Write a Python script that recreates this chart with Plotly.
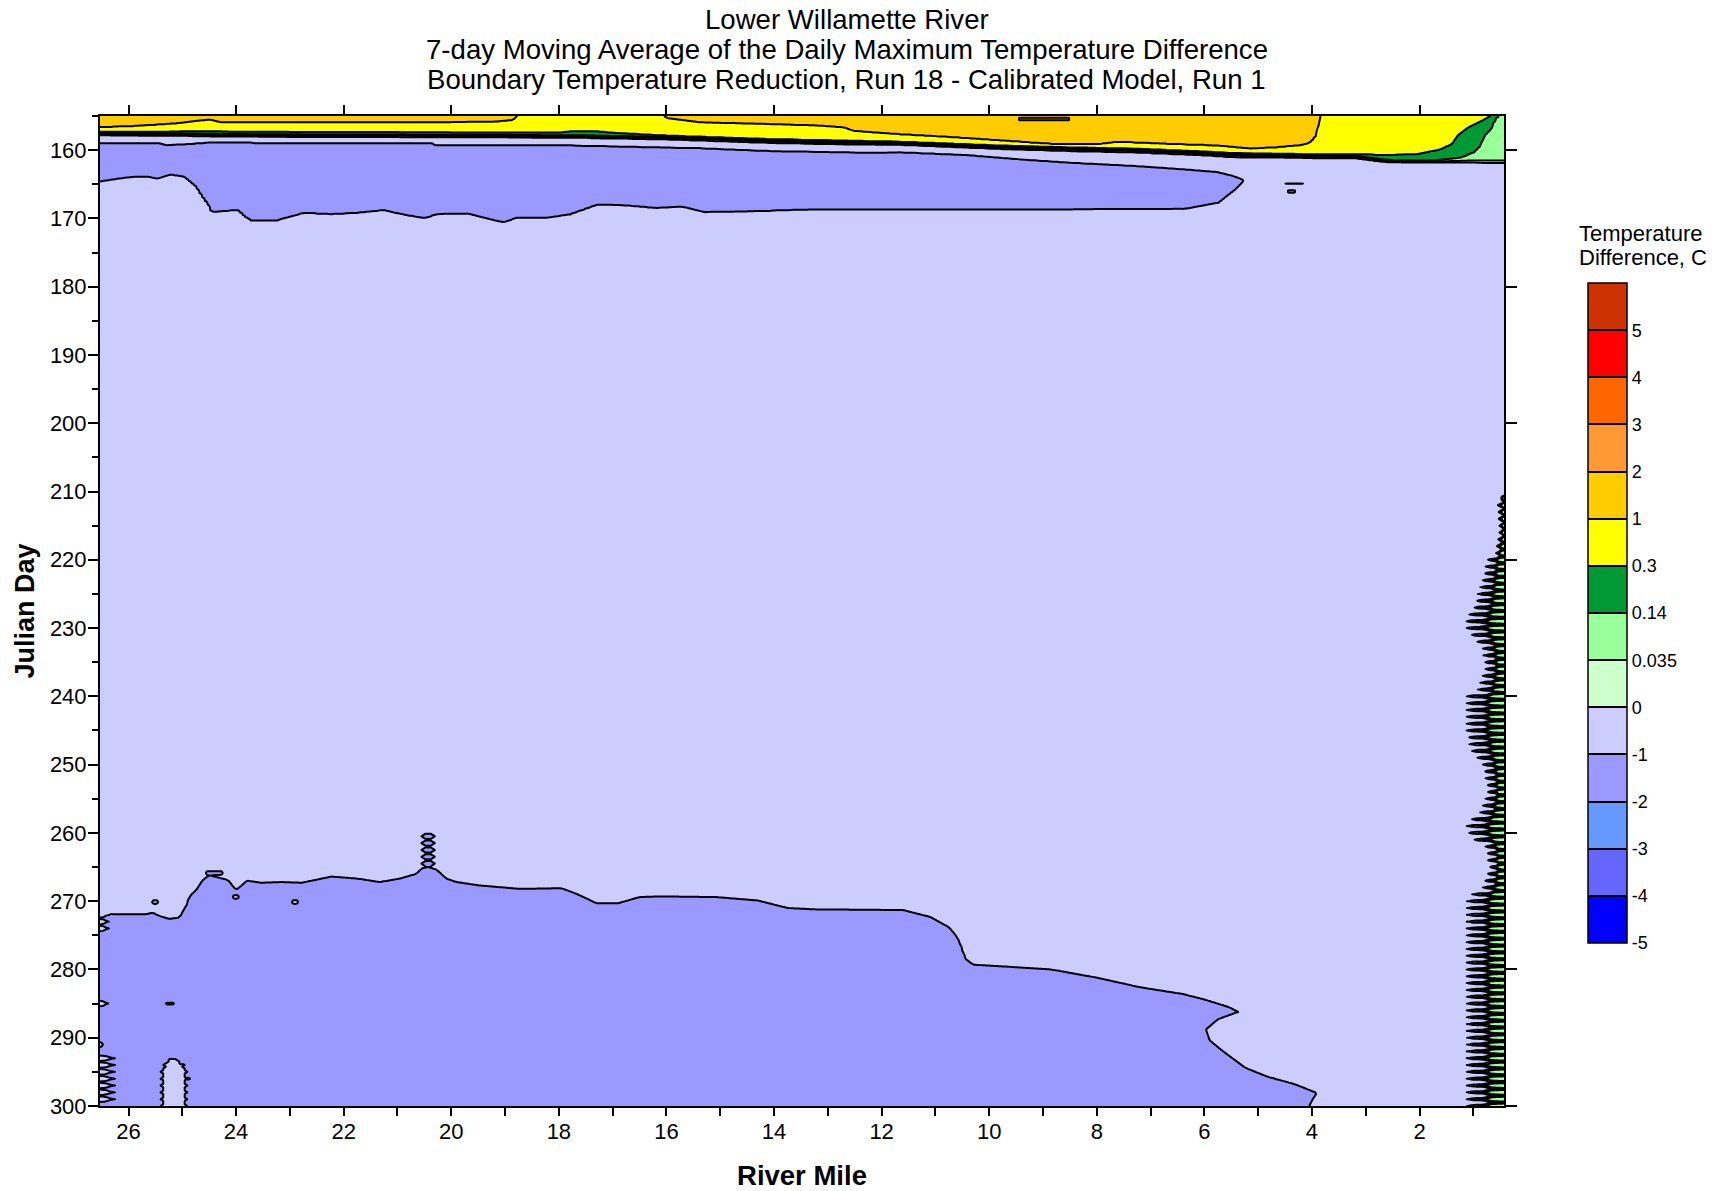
import numpy as np
import plotly.graph_objects as go

# ------------------------------------------------------------------ data
LEVELS = [-5, -4, -3, -2, -1, 0, 0.035, 0.14, 0.3, 1, 2, 3, 4, 5]
LEVEL_TEXT = ["-5", "-4", "-3", "-2", "-1", "0", "0.035", "0.14", "0.3",
              "1", "2", "3", "4", "5"]
BAND_COLORS = ["#0000FF", "#6666FF", "#6699FF", "#9999FF", "#CCCCFF", "#CCFFCC",
               "#99FF99", "#009933", "#FFFF00", "#FFCC00", "#FF9933", "#FF6600",
               "#FF0000", "#CC3300"]

TITLE_LINES = ["Lower Willamette River",
               "7-day Moving Average of the Daily Maximum Temperature Difference",
               "Boundary Temperature Reduction, Run 18 - Calibrated Model, Run 1"]
CBAR_TITLE = ["Temperature", "Difference, C"]
X_TITLE = "River Mile"
Y_TITLE = "Julian Day"

MILE_RANGE = [26.53, 0.43]
DAY_RANGE = [300, 155]

# temperature differences (C) read for the zones of the map
ORANGE_T, LAV_T, DARK_T = 1.6, -0.5, -1.5

# ---- upper zone boundaries (river mile -> Julian day)
ORANGE_MI = [26.53, 25.92, 25.11, 24.70, 24.49, 24.30, 23.75, 20.00, 19.20, 18.85,
             18.72, 16.10, 16.00, 15.37, 14.13, 13.20, 12.71, 12.52, 11.65, 10.72,
             9.79, 8.86, 7.93, 7.62, 6.69, 5.76, 5.14, 4.64, 4.21, 4.05, 3.95,
             3.90, 3.86, 3.84, 0.43]
ORANGE_DAY = [156.65, 156.5, 156.1, 155.7, 155.55, 155.9, 155.9, 155.9, 155.85, 155.6,
              154.6, 154.6, 155.3, 155.94, 156.18, 156.4, 156.67, 157.2, 157.7, 158.1,
              158.6, 159.1, 159.1, 158.8, 159.1, 159.35, 159.8, 159.6, 159.3, 159.0, 158.3,
              157.5, 155.5, 154.6, 154.6]

YELLOW_MI = [26.53, 25.30, 24.50, 23.75, 19.97, 19.10, 18.00, 17.75, 17.30, 16.95,
             16.00, 14.13, 12.90, 11.65, 9.79, 8.55, 7.31, 6.07, 5.45, 4.21, 3.16,
             2.66, 2.04, 1.61, 1.39, 1.30, 1.11, 0.80, 0.70, 0.43]
YELLOW_DAY = [157.3, 157.3, 157.25, 157.35, 157.4, 157.45, 157.45, 157.25, 157.25, 157.5,
              157.9, 158.4, 158.6, 158.8, 159.35, 159.6, 159.8, 160.2, 160.45, 160.6, 160.6,
              160.75, 160.6, 159.9, 159.1, 157.9, 156.7, 155.5, 155.0, 154.4]

GREEN_MI = [2.70, 2.35, 1.73, 1.22, 0.98, 0.86, 0.80, 0.67, 0.61, 0.55, 0.43]
GREEN_DAY = [161.37, 161.6, 161.55, 161.1, 160.3, 159.35, 157.9, 156.9, 155.5, 155.0, 154.5]

LGREEN_MI = [2.70, 2.00, 1.50, 1.00, 0.43]
LGREEN_DAY = [161.53, 161.65, 161.62, 161.55, 161.5]

LAVTOP_MI = [26.53, 25.30, 24.50, 23.75, 19.97, 19.10, 17.85, 16.00, 14.13, 12.90,
             11.65, 9.79, 8.55, 7.31, 6.07, 5.45, 4.21, 3.16, 2.66, 2.04, 1.00, 0.43]
LAVTOP_DAY = [157.8, 157.85, 157.95, 158.0, 158.1, 158.1, 158.15, 158.4, 158.9, 159.1,
              159.2, 159.8, 160.1, 160.3, 160.7, 161.0, 161.1, 161.2, 161.7, 161.8, 161.8, 161.9]

DARKTOP_MI = [26.53, 25.43, 25.30, 24.90, 24.49, 23.75, 23.56, 20.35, 20.29, 18.72,
              17.73, 15.37, 14.13, 12.27, 11.65, 10.41, 9.48, 8.55, 7.31, 6.38, 5.76,
              5.46, 5.33, 5.28]
DARKTOP_DAY = [159.0, 159.0, 159.25, 159.1, 158.85, 158.85, 159.0, 159.0, 159.25, 159.25,
               159.3, 159.7, 160.1, 160.35, 160.3, 160.7, 161.3, 161.8, 162.3, 162.8, 163.2,
               163.8, 164.2, 164.45]

DARKBOT_MI = [26.53, 26.20, 25.88, 25.63, 25.47, 25.21, 24.97, 24.76, 24.64, 24.51,
              24.47, 23.98, 23.85, 23.73, 23.23, 22.74, 22.24, 21.74, 21.25, 20.92,
              20.50, 20.26, 19.68, 19.51, 19.02, 18.77, 18.19, 17.78, 17.28, 16.78,
              16.20, 15.71, 15.30, 14.31, 13.74, 13.00, 8.57, 6.35, 5.73, 5.42, 5.33, 5.28]
DARKBOT_DAY = [164.6, 164.2, 163.9, 163.9, 164.2, 163.6, 163.9, 165.3, 166.8, 168.2,
               169.1, 168.8, 169.7, 170.3, 170.3, 169.2, 169.4, 169.2, 168.8, 169.4,
               170.0, 169.4, 169.3, 169.7, 170.6, 169.9, 169.9, 169.4, 168.0, 168.1,
               168.5, 168.3, 169.1, 168.97, 168.8, 168.7, 168.7, 168.6, 167.7, 165.75, 165.0, 164.5]

# ---- lower zone: top of the -2..-1 C area (river mile -> Julian day)
BOT_MI = [26.53, 25.67, 25.55, 25.45, 25.24, 25.05, 24.97, 24.90, 24.87, 24.74, 24.62,
          24.50, 24.15, 24.05, 24.00, 23.89, 23.80, 23.53, 23.16, 22.78, 22.23, 21.73,
          21.33, 20.96, 20.65, 20.55, 20.43, 20.27, 20.09, 19.90, 19.47, 18.72, 17.95,
          17.65, 17.30, 16.90, 16.50, 16.10, 15.08, 14.30, 13.75, 13.25, 11.60, 11.10,
          10.75, 10.60, 10.50, 10.45, 10.30, 9.65, 8.85, 8.00, 7.20, 6.40, 6.00, 5.55,
          5.35, 5.30, 0.43]
BOT_DAY = [271.9, 271.9, 271.7, 272.1, 272.6, 272.4, 271.2, 270.3, 269.3, 268.35, 266.9,
           266.2, 266.9, 267.9, 268.35, 267.65, 267.0, 267.3, 267.2, 267.3, 266.4, 266.7,
           267.2, 266.7, 266.0, 265.2, 265.0, 265.4, 266.7, 267.2, 267.7, 268.2, 268.1,
           269.0, 270.3, 270.3, 269.4, 269.3, 269.4, 269.9, 271.0, 271.2, 271.3, 272.3,
           273.8, 275.2, 277.0, 278.4, 279.3, 279.6, 280.0, 281.2, 282.6, 283.6, 284.4, 285.5,
           286.3, 287.0, 287.0]

# lavender bay cut into the lower area near mile 4-6 (Julian day -> river mile)
FOLD_DAY = [286.0, 286.3, 287.3, 288.8, 290.4, 292.0, 294.4, 295.7, 296.8, 298.1, 299.2, 300.0]
FOLD_MI = [-10.0, 5.4, 5.75, 5.97, 5.9, 5.65, 5.24, 4.83, 4.32, 3.91, 4.0, 4.05]

# sawtooth fringe along the right edge (Julian day -> furthest river mile)
TEETH_R_DAY = [210.5, 212, 216, 219, 220, 224, 227, 229.5, 231, 233, 236, 239, 240, 245,
               248, 250, 254, 257, 258.5, 260.5, 262, 265, 268, 269.5, 280, 290, 300]
TEETH_R_MI = [0.45, 0.55, 0.52, 0.6, 0.75, 0.9, 1.05, 1.27, 1.1, 0.85, 0.8, 0.95, 1.19, 1.2,
              1.1, 0.85, 0.75, 0.9, 1.2, 1.15, 0.8, 0.72, 0.85, 1.18, 1.2, 1.18, 1.2]

# sawtooth fringes along the left edge (day start, day end, furthest river mile)
TEETH_L_START = [272.0, 284.5, 290.5, 292.3]
TEETH_L_END = [274.5, 285.7, 291.6, 299.6]
TEETH_L_MI = [26.26, 26.28, 26.44, 26.07]

# chain of small cells near river mile 20.4
SPIKE_MI = 20.43
SPIKE_DAYS = [260, 261, 262, 263, 264]

# lavender pocket near the bottom-left: day, west edge mile, east edge mile
LOBE_DAY = [293.2, 294.5, 296.0, 300.0]
LOBE_W = [25.25, 25.33, 25.35, 25.33]
LOBE_E = [25.10, 24.97, 24.95, 24.97]

# small islands: (mile hi, mile lo, day lo, day hi, temperature)
ISLANDS = [(4.48, 4.15, 164.85, 164.95, -1.2), (4.45, 4.30, 165.9, 166.2, -1.2),
           (25.55, 25.45, 270.0, 270.25, -1.5), (24.05, 23.95, 269.25, 269.5, -0.5),
           (22.95, 22.85, 270.0, 270.25, -0.5), (25.30, 25.15, 285.0, 285.0, -0.5),
           (24.55, 24.25, 265.75, 266.0, -1.5), (9.45, 8.50, 155.3, 155.6, 2.3)]

# ------------------------------------------------------------------ grid built from the readings
miles = np.round(np.arange(0.43, 26.5301, 0.05), 3)
days = np.concatenate([np.round(np.arange(155.0, 171.0, 0.1), 2),
                       np.arange(171.0, 300.001, 0.25)])


def f_interp(x, xs, ys):
    xs = np.asarray(xs, float)
    ys = np.asarray(ys, float)
    o = np.argsort(xs, kind="stable")
    return np.interp(x, xs[o], ys[o])


Z = np.full((len(days), len(miles)), LAV_T)

B8 = f_interp(miles, YELLOW_MI, YELLOW_DAY)
O = np.minimum(f_interp(miles, ORANGE_MI, ORANGE_DAY), B8 - 0.1)
B5 = f_interp(miles, LAVTOP_MI, LAVTOP_DAY)
B7 = np.where(miles < 2.7, f_interp(miles, GREEN_MI, GREEN_DAY), np.maximum(B5 - 0.33, B8 + 0.05))
B6 = np.where(miles < 2.7, f_interp(miles, LGREEN_MI, LGREEN_DAY), np.maximum(B5 - 0.17, B7 + 0.05))
DT = f_interp(miles, DARKTOP_MI, DARKTOP_DAY)
DB = f_interp(miles, DARKBOT_MI, DARKBOT_DAY)
has_dark = (miles >= 5.28) & (DB - DT > 0.05)

top_rows = days <= 180
dtop = days[top_rows]
for j in range(len(miles)):
    kd = [153.0, O[j], B8[j], B7[j], B6[j], B5[j]]
    kv = [ORANGE_T, 1.0, 0.3, 0.14, 0.035, 0.0]
    if has_dark[j]:
        kd += [DT[j], 0.5 * (DT[j] + DB[j]), DB[j], DB[j] + 0.6]
        kv += [-1.0, DARK_T, -1.0, LAV_T]
    else:
        kd += [B5[j] + 0.8]
        kv += [LAV_T]
    kd += [181.0]
    kv += [LAV_T]
    kd = np.maximum.accumulate(np.array(kd)) + np.arange(len(kd)) * 1e-4
    Z[top_rows, j] = np.interp(dtop, kd, kv)

bot_rows = days >= 200
dbot = days[bot_rows]
BB = f_interp(miles, BOT_MI, BOT_DAY)
RR = np.interp(dbot, FOLD_DAY, FOLD_MI, left=-10.0)
s1 = BB[None, :] - dbot[:, None]
s2 = (RR[:, None] - miles[None, :]) * 7.9
Z[bot_rows] = -1.0 + np.clip(np.maximum(s1, s2), -0.5, 0.5)

frac = np.abs(days - np.round(days))
is_int = frac < 1e-6
is_q = np.abs(frac - 0.25) < 1e-6
is_h = np.abs(frac - 0.5) < 1e-6

# right-edge fringe
env = np.interp(days, TEETH_R_DAY, TEETH_R_MI)
for i, d in enumerate(days):
    if not (TEETH_R_DAY[0] <= d <= TEETH_R_DAY[-1]):
        continue
    if is_int[i]:
        sc = 1.0
    elif is_q[i]:
        sc = 0.5
    else:
        continue
    e_eff = 0.43 + (env[i] - 0.43) * sc
    f = (e_eff - miles) / (e_eff - 0.43)
    m = f > 0
    Z[i, m] = np.maximum(Z[i, m], -0.02 + 0.16 * f[m])

# left-edge fringes
for s, e, em in zip(TEETH_L_START, TEETH_L_END, TEETH_L_MI):
    for i, d in enumerate(days):
        if s <= d <= e and (is_int[i] or is_q[i]):
            em_eff = em if is_int[i] else 26.53 - (26.53 - em) * 0.5
            f = (miles - em_eff) / (26.53 - em_eff)
            m = f > 0
            Z[i, m] = np.maximum(Z[i, m], -1.5 + 1.3 * f[m])

# chain near mile 20.4 (diamond-shaped cells)
for k in SPIKE_DAYS:
    for i, d in enumerate(days):
        if k + 0.2 <= d <= k + 0.8:
            half = 0.12 if is_h[i] else 0.05
            cols = np.abs(miles - SPIKE_MI) <= half + 1e-6
            Z[i, cols] = DARK_T

# bottom-left pocket
lw = np.interp(days, LOBE_DAY, LOBE_W)
le = np.interp(days, LOBE_DAY, LOBE_E)
for i, d in enumerate(days):
    if d >= LOBE_DAY[0]:
        pad = 0.07 if is_int[i] else 0.0
        m = (miles <= lw[i] + pad) & (miles >= le[i] - pad)
        Z[i, m] = LAV_T

for mhi, mlo, dlo, dhi, t in ISLANDS:
    rows = (days >= dlo - 1e-6) & (days <= dhi + 1e-6)
    cols = (miles >= mlo - 1e-6) & (miles <= mhi + 1e-6)
    Z[np.ix_(rows, cols)] = t

# map the uneven class breaks onto equal steps so every class gets one colour box
Zi = np.interp(Z, LEVELS, np.arange(len(LEVELS))).astype(np.float32)

# discrete colour scale
n = len(LEVELS) - 1  # 13
cscale = []
for k in range(n):
    lo = k / n
    hi = (k + 1) / n if k < n - 1 else 0.995
    cscale += [[lo, BAND_COLORS[k]], [hi, BAND_COLORS[k]]]
cscale += [[1.0, BAND_COLORS[-1]]]

FONT = "Liberation Sans, Arial, sans-serif"

fig = go.Figure()
fig.add_trace(go.Contour(
    x=miles, y=days, z=Zi, zmin=0, zmax=len(LEVELS), autocontour=False,
    contours=dict(start=1, end=n, size=1, coloring="fill", showlines=True),
    line=dict(color="black", width=2, smoothing=0.5),
    colorscale=cscale, hoverinfo="skip",
    colorbar=dict(
        tickmode="array", tickvals=list(range(len(LEVELS))), ticktext=LEVEL_TEXT,
        ticks="", tickfont=dict(family=FONT, size=18, color="black"),
        thickness=39, thicknessmode="pixels", len=0.6664, lenmode="fraction",
        x=1.0599, xanchor="left", y=0.4978, yanchor="middle", xpad=0, ypad=0,
        outlinewidth=1.5, outlinecolor="black",
    ),
))
fig.add_trace(go.Scatter(x=[None], y=[None], xaxis="x2", yaxis="y2",
                         showlegend=False, hoverinfo="skip"))

axis_common = dict(showgrid=False, zeroline=False, ticks="outside", tickcolor="black",
                   tickwidth=1.5, automargin=False,
                   tickfont=dict(family=FONT, size=22, color="black"))

fig.update_layout(
    width=1726, height=1191, autosize=False,
    margin=dict(l=100, r=222, t=116, b=85, pad=0),
    paper_bgcolor="white", plot_bgcolor="white", showlegend=False,
    xaxis=dict(range=MILE_RANGE, tickmode="linear", tick0=0, dtick=2, ticklen=8,
               ticklabelstandoff=-3,
               showline=True, linewidth=2, linecolor="black", mirror=True,
               minor=dict(dtick=1, tick0=1, ticks="outside", ticklen=8, tickwidth=1.5,
                          tickcolor="black", showgrid=False),
               title=dict(text="<b>" + X_TITLE + "</b>", standoff=22,
                          font=dict(family=FONT, size=27.5, color="black")),
               **axis_common),
    yaxis=dict(range=DAY_RANGE, tickmode="linear", tick0=160, dtick=10, ticklen=10,
               ticklabelstandoff=-3,
               showline=True, linewidth=2, linecolor="black", mirror=True,
               minor=dict(dtick=5, tick0=155, ticks="outside", ticklen=6, tickwidth=1.5,
                          tickcolor="black", showgrid=False),
               title=dict(text="<b>" + Y_TITLE + "</b>", standoff=7,
                          font=dict(family=FONT, size=27, color="black")),
               **axis_common),
    xaxis2=dict(range=MILE_RANGE, overlaying="x", side="top", anchor="y",
                tickmode="linear", tick0=0, dtick=2, ticklen=10, showticklabels=False,
                showline=False, **axis_common),
    yaxis2=dict(range=DAY_RANGE, overlaying="y", side="right", anchor="x",
                tickmode="linear", tick0=160, dtick=20, ticklen=12, showticklabels=False,
                showline=False, **axis_common),
)

title_y = [1.0972, 1.0672, 1.0371]
for txt, yy in zip(TITLE_LINES, title_y):
    fig.add_annotation(text=txt, xref="paper", yref="paper", x=0.5318, y=yy,
                       xanchor="center", yanchor="middle", showarrow=False,
                       font=dict(family=FONT, size=27.6, color="black"))
for txt, xx, yy in zip(CBAR_TITLE, [1.0976, 1.099], [0.8814, 0.857]):
    fig.add_annotation(text=txt, xref="paper", yref="paper", x=xx, y=yy,
                       xanchor="center", yanchor="middle", showarrow=False,
                       font=dict(family=FONT, size=22, color="black"))

fig.write_html("out.html", config={"displayModeBar": False},
               post_script="document.body.style.margin='0';")
